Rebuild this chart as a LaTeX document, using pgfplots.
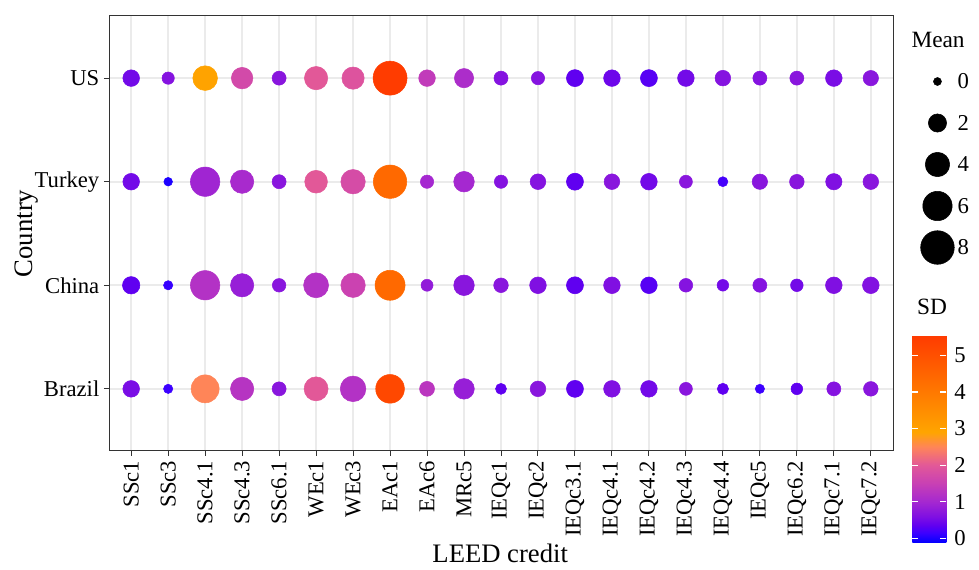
\documentclass[border=0pt]{standalone}
\usepackage{pgfplots}
\pgfplotsset{compat=1.18}
\usepackage{pgfplotstable}
\usepackage{fontspec}
\setmainfont{Liberation Serif}
\definecolor{gridc}{RGB}{235,235,235}
\definecolor{framec}{RGB}{51,51,51}
\newcommand{\tickfont}{\fontsize{17pt}{17pt}\selectfont}
\newcommand{\titlefont}{\fontsize{20pt}{20pt}\selectfont}

% columns: x (credit index), y (country index), mean, sd
\pgfplotstableread{
x y mean sd
0 4 1.6 0.5
1 4 0.66 0.65
2 4 4.1 2.95
3 4 3.0 1.7
4 4 1.0 0.7
5 4 3.6 2.0
6 4 3.25 1.9
7 4 8.2 5.5
8 4 1.6 1.4
9 4 2.3 1.1
10 4 1.0 0.65
11 4 0.85 0.65
12 4 1.7 0.35
13 4 1.6 0.45
14 4 1.7 0.3
15 4 1.6 0.5
16 4 1.36 0.65
17 4 1.0 0.65
18 4 1.0 0.7
19 4 1.6 0.55
20 4 1.3 0.7
}\tabUS
\pgfplotstableread{
x y mean sd
0 3 1.6 0.5
1 3 0.08 0.0
2 3 6.0 0.95
3 3 3.6 1.05
4 3 1.0 0.7
5 3 3.4 2.0
6 3 4.0 1.75
7 3 7.9 4.4
8 3 0.85 1.0
9 3 2.7 1.0
10 3 0.85 0.65
11 3 1.36 0.65
12 3 1.7 0.35
13 3 1.36 0.7
14 3 1.6 0.5
15 3 0.79 0.7
16 3 0.27 0.2
17 3 1.3 0.7
18 3 1.13 0.7
19 3 1.52 0.6
20 3 1.36 0.7
}\tabTurkey
\pgfplotstableread{
x y mean sd
0 2 1.8 0.35
1 2 0.17 0.12
2 2 6.0 1.2
3 2 3.6 0.85
4 2 0.9 0.7
5 2 4.2 1.2
6 2 4.0 1.55
7 2 6.3 4.4
8 2 0.6 0.8
9 2 2.7 0.7
10 2 1.13 0.7
11 2 1.6 0.6
12 2 1.7 0.35
13 2 1.6 0.6
14 2 1.6 0.3
15 2 0.92 0.65
16 2 0.54 0.5
17 2 1.0 0.65
18 2 0.72 0.5
19 2 1.6 0.6
20 2 1.6 0.62
}\tabChina
\pgfplotstableread{
x y mean sd
0 1 1.6 0.55
1 1 0.17 0.15
2 1 5.4 2.5
3 1 3.6 1.25
4 1 1.0 0.7
5 1 3.85 2.0
6 1 4.45 1.2
7 1 5.7 5.2
8 1 1.2 1.3
9 1 2.7 0.85
10 1 0.43 0.35
11 1 1.36 0.7
12 1 1.7 0.35
13 1 1.6 0.6
14 1 1.6 0.5
15 1 0.79 0.7
16 1 0.48 0.35
17 1 0.17 0.15
18 1 0.54 0.35
19 1 1.0 0.65
20 1 1.13 0.7
}\tabBrazil
\pgfplotstableread{
x y mean
0 0 0
0 -1 2
0 -2 4
0 -3 6
0 -4 8
}\tabLegend

\pgfplotsset{
  bubble/.style={
    scatter, only marks, mark=*,
    scatter/use mapped color={#1},
    visualization depends on={0.75*sqrt(16+33.3*\thisrow{mean}) \as \msize},
    scatter/@pre marker code/.append style={/tikz/mark size=\msize pt},
  },
}

\begin{document}
\begin{tikzpicture}
\path[use as bounding box] (0,0) rectangle (734.25pt,427.5pt);
\begin{axis}[
  at={(81.75pt,89.25pt)}, anchor=south west,
  scale only axis, width=588pt, height=326.25pt,
  xmin=-0.6, xmax=20.6, ymin=0.4, ymax=4.6,
  xtick={0,...,20},
  xticklabels={SSc1,SSc3,SSc4.1,SSc4.3,SSc6.1,WEc1,WEc3,EAc1,EAc6,MRc5,IEQc1,IEQc2,IEQc3.1,IEQc4.1,IEQc4.2,IEQc4.3,IEQc4.4,IEQc5,IEQc6.2,IEQc7.1,IEQc7.2},
  ytick={1,2,3,4}, yticklabels={Brazil,China,Turkey,US},
  xticklabel style={rotate=90, anchor=east, font=\tickfont},
  yticklabel style={font=\tickfont},
  tick pos=left, tick align=outside, major tick length=3.75pt,
  tick style={framec, line width=0.75pt},
  axis line style={framec, line width=0.75pt},
  grid=major, major grid style={gridc, line width=1.3pt},
  xlabel={LEED credit}, ylabel={Country},
  xlabel style={at={(axis description cs:0.499,-0.2345)}, anchor=center, font=\titlefont},
  ylabel style={at={(axis description cs:-0.105,0.5)}, anchor=center, font=\titlefont},
  colormap={sd}{rgb255(0pt)=(0,0,255); rgb255(28pt)=(60,0,255); rgb255(48pt)=(96,0,240); rgb255(73pt)=(128,16,226); rgb255(113pt)=(165,40,208); rgb255(163pt)=(200,64,180); rgb255(213pt)=(226,88,152); rgb255(263pt)=(255,133,88); rgb255(303pt)=(255,165,0); rgb255(569pt)=(255,58,0)},
  point meta min=-0.13, point meta max=5.56,
  colorbar,
  colorbar/width=25.5pt,
  colorbar style={
    at={(parent axis.south east)}, anchor=south west,
    xshift=6pt, yshift=-69pt,
    scale only axis, width=25.5pt, height=156pt,
    ytick={0,1,2,3,4,5},
    axis line style={draw=none},
    tick align=inside, major tick length=4.5pt,
    ytick style={white, line width=0.9pt},
    ytick pos=both, yticklabel pos=right,
    yticklabel style={font=\tickfont, xshift=2.5pt, /pgf/number format/assume math mode=true},
    title={SD}, title style={at={(0,1)}, anchor=base west, yshift=9pt, font=\fontsize{17.5pt}{17.5pt}\selectfont},
  },
]
\addplot[bubble={draw=mapped color, fill=mapped color}, point meta=\thisrow{sd}] table[x=x, y=y] {\tabBrazil};
\addplot[bubble={draw=mapped color, fill=mapped color}, point meta=\thisrow{sd}] table[x=x, y=y] {\tabChina};
\addplot[bubble={draw=mapped color, fill=mapped color}, point meta=\thisrow{sd}] table[x=x, y=y] {\tabTurkey};
\addplot[bubble={draw=mapped color, fill=mapped color}, point meta=\thisrow{sd}] table[x=x, y=y] {\tabUS};
\end{axis}

\begin{axis}[
  at={(695.6pt,226.3pt)}, anchor=south west,
  scale only axis, width=15pt, height=155.625pt,
  xmin=-1, xmax=1, ymin=-4.5, ymax=0.5,
  axis line style={draw=none}, ticks=none, clip=false,
  /pgf/number format/assume math mode=true,
  title={Mean}, title style={at={(0,1)}, anchor=base west, xshift=-15.5pt, yshift=4pt, font=\fontsize{17.5pt}{17.5pt}\selectfont},
]
\addplot[bubble={draw=black, fill=black}, point meta=\thisrow{mean}]
  table[x=x, y=y] {\tabLegend};
\addplot[only marks, mark=none, point meta=\thisrow{mean},
  nodes near coords,
  every node near coord/.style={anchor=west, xshift=15pt, inner sep=0pt, font=\tickfont, text=black}]
  table[x=x, y=y] {\tabLegend};
\end{axis}
\end{tikzpicture}
\end{document}
